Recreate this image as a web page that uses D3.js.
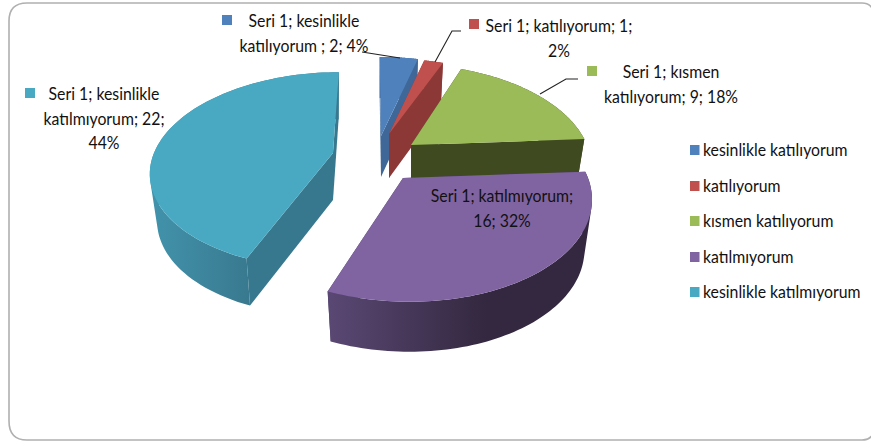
<!DOCTYPE html>
<html><head><meta charset="utf-8">
<script src="https://cdn.jsdelivr.net/npm/d3@7/dist/d3.min.js"></script>
<style>html,body{margin:0;padding:0;background:#fff}svg{display:block}text{font-family:Lato,"Open Sans",sans-serif;fill:#111}</style>
</head><body><svg id="c" width="871" height="441"></svg>
<script>
const categories = ["kesinlikle katılıyorum","katılıyorum","kısmen katılıyorum","katılmıyorum","kesinlikle katılmıyorum"];
const values = [2,1,9,16,22];
const topColors = ["#4f81bd","#c0504d","#9bbb59","#8064a2","#49a9c3"];
const cutColors = ["#3f6797","#8c3836","#404a21","#4d3d63","#37788e"];
const wallStart = ["#3f6797","#8c3836","#404a21","#5a4874","#4293ac"];
const wallEnd = ["#3f6797","#8c3836","#404a21","#33283f","#38788e"];
const apexX = [381,389,411,403,333];
const apexY = [136,134,145,178,153];
const radX = [180,178,176,185,179];
const radY = [93,89,95,102,95];
const depth = [41,44,42,50,47];
const labelLines = [["Seri 1; kesinlikle","katılıyorum ; 2; 4%"],["Seri 1; katılıyorum; 1;","2%"],["Seri 1; kısmen","katılıyorum; 9; 18%"],["Seri 1; katılmıyorum;","16; 32%"],["Seri 1; kesinlikle","katılmıyorum; 22;","44%"]];
const labelX = [304,559,671,502,104];
const labelY = [27,32,78,202,100];
const labelMarkX = [222,469,587,null,25];
const labelMarkY = [15,19,66,null,88];
const leaderLines = [[[362,52],[400,58]],[[461,31],[452,31],[435,62]],[[578,79],[566,79],[540,94]]];
const legendY = [150,186,221,257,292];

const K=0.176, VPX=372, BOTTOM=0.96, SQUEEZE=0.93;
const svg=d3.select("#c");
const defs=svg.append("defs");
svg.append("path").attr("d","M9,421 L9,21 Q9,3 27,3 L862,3 Q871,3 874,12 L874,432 Q871,440 862,440 L27,440 Q9,440 9,421 Z").attr("fill","#fff").attr("stroke","#b0b0b0").attr("stroke-width",1.6);

const pie=d3.pie().sort(null).value(d=>d);
const arcs=pie(values);
function proj(i,t,lower){
  const u=Math.sin(t), v=-Math.cos(t), s=1/(1-K*v);
  let dx=(apexX[i]+radX[i]*u-VPX)*s+VPX-apexX[i];
  const dy=radY[i]*v*s;
  if(lower) dx*=BOTTOM;
  return [apexX[i]+dx, apexY[i]+dy+(lower?depth[i]:0)];
}
const line=d3.line();
const N=80;
const scaleT=a=>d3.range(N+1).map(j=>a.startAngle+(a.endAngle-a.startAngle)*j/N);
const g=svg.append("g");
[4,0,1,2,3].forEach(i=>{
  const a=arcs[i], ts=scaleT(a);
  const upper=ts.map(t=>proj(i,t,false)), lower=ts.map(t=>proj(i,t,true));
  const apex=[apexX[i],apexY[i]], apexL=[apexX[i],apexY[i]+depth[i]];
  const xs=upper.map(p=>p[0]);
  const gid="w"+i;
  const gr=defs.append("linearGradient").attr("id",gid).attr("gradientUnits","userSpaceOnUse")
    .attr("x1",d3.min(xs)).attr("x2",d3.min(xs)+(d3.max(xs)-d3.min(xs))*(i===4?0.55:0.6)).attr("y1",0).attr("y2",0);
  gr.append("stop").attr("offset",0).attr("stop-color",wallStart[i]);
  gr.append("stop").attr("offset",1).attr("stop-color",wallEnd[i]);
  [0,N].forEach(j=>{
    g.append("path").attr("d",line([apex,upper[j],lower[j],apexL])+"Z").attr("fill",cutColors[i]);
  });
  const wall=d3.range(N).map(j=>{
    const q=[upper[j],upper[j+1],lower[j+1],lower[j]];
    return line(d3.polygonArea(q)<0?q.slice().reverse():q)+"Z";
  }).join("");
  g.append("path").attr("d",wall).attr("fill",`url(#${gid})`);
  g.append("path").attr("d",line([apex].concat(upper))+"Z").attr("fill",topColors[i]);
});

leaderLines.forEach(l=>svg.append("path").attr("d",line(l)).attr("fill","none").attr("stroke","#222").attr("stroke-width",1.1));

function narrow(sel){
  sel.each(function(){ this.setAttribute("textLength", this.getComputedTextLength()*SQUEEZE); this.setAttribute("lengthAdjust","spacingAndGlyphs"); });
}
labelLines.forEach((ls,i)=>{
  ls.forEach((t,j)=>narrow(svg.append("text").attr("x",labelX[i]).attr("y",labelY[i]+j*24.5).attr("text-anchor","middle").attr("font-size",17).text(t)));
  if(labelMarkX[i]!==null) svg.append("rect").attr("x",labelMarkX[i]).attr("y",labelMarkY[i]).attr("width",10).attr("height",10).attr("fill",topColors[i]);
});
categories.forEach((c,i)=>{
  svg.append("rect").attr("x",690).attr("y",legendY[i]-5).attr("width",9.5).attr("height",10).attr("fill",topColors[i]);
  narrow(svg.append("text").attr("x",703).attr("y",legendY[i]+6).attr("font-size",17).text(c));
});
</script></body></html>
